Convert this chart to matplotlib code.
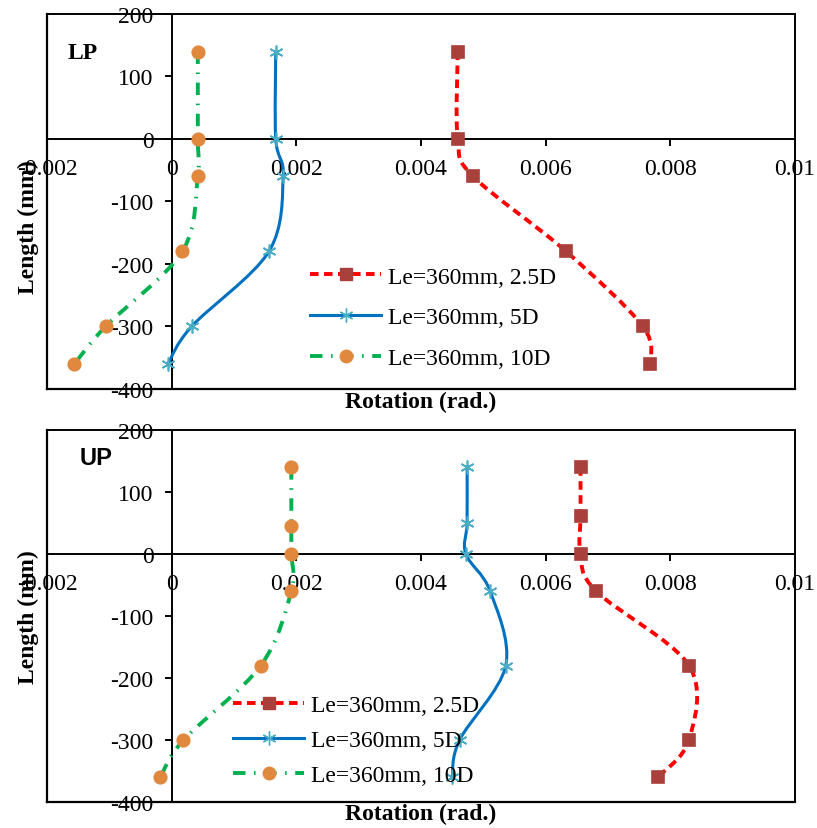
import numpy as np
import matplotlib
matplotlib.use('Agg')
import matplotlib.pyplot as plt
from matplotlib.path import Path
from matplotlib.patches import PathPatch
from matplotlib.lines import Line2D

plt.rcParams['font.family'] = ['Liberation Serif', 'DejaVu Serif']
plt.rcParams['axes.unicode_minus'] = False

# LP panel (top)
lp_len_25 = [140, 0, -60, -180, -300, -360]
lp_rot_25 = [0.00459, 0.00459, 0.00484, 0.00633, 0.00756, 0.00768]
lp_len_5 = [140, 0, -60, -180, -300, -360]
lp_rot_5 = [0.00167, 0.00167, 0.00179, 0.00156, 0.00032, -0.00006]
lp_len_10 = [140, 0, -60, -180, -300, -360]
lp_rot_10 = [0.00042, 0.00042, 0.00042, 0.00017, -0.00106, -0.00156]

# UP panel (bottom)
up_len_25 = [140, 62, 0, -60, -180, -300, -360]
up_rot_25 = [0.00656, 0.00656, 0.00656, 0.00681, 0.0083, 0.0083, 0.0078]
up_len_5 = [140, 50, 0, -60, -180, -300, -360]
up_rot_5 = [0.00474, 0.00474, 0.00472, 0.00511, 0.00536, 0.00462, 0.0045]
up_len_10 = [140, 45, 0, -60, -180, -300, -360]
up_rot_10 = [0.00192, 0.00192, 0.00192, 0.00192, 0.00143, 0.00019, -0.00018]

labels = ['Le=360mm, 2.5D', 'Le=360mm, 5D', 'Le=360mm, 10D']
x_ticks = [-0.002, 0, 0.002, 0.004, 0.006, 0.008, 0.01]
x_ticklabels = ['-0.002', '0', '0.002', '0.004', '0.006', '0.008', '0.01']
y_ticks = [200, 100, 0, -100, -200, -300, -400]

FS = 17
STAR = (6, 2, 0)

styles = [
    dict(color='#FF0000', lw=2.8, ls=(0, (2.2, 1.4)), marker='s', ms=8.5,
         mfc='#A9403C', mec='#A9403C'),
    dict(color='#0070C0', lw=2.2, ls='-', marker=STAR, ms=10,
         mfc='#4BACC6', mec='#4BACC6'),
    dict(color='#00B050', lw=2.8, ls=(0, (3.2, 2.2, 0.4, 2.2)), marker='o', ms=9,
         mfc='#E0893E', mec='#E0893E'),
]


def smooth_path(x, y):
    # Excel-like smoothed line: cubic Bezier through the points
    p = np.column_stack([x, y]).astype(float)
    n = len(p)
    verts = [p[0]]
    codes = [Path.MOVETO]
    for i in range(n - 1):
        p0 = p[i - 1] if i > 0 else p[i]
        p3 = p[i + 2] if i + 2 < n else p[i + 1]
        c1 = p[i] + (p[i + 1] - p0) / 6.0
        c2 = p[i + 1] - (p3 - p[i]) / 6.0
        verts += [c1, c2, p[i + 1]]
        codes += [Path.CURVE4] * 3
    return Path(verts, codes)


def draw_panel(ax, series, tag, tag_font, tag_pos, leg_anchor, leg_spacing, ylab_y):
    ax.set_xlim(-0.002, 0.01)
    ax.set_ylim(-400, 200)
    for (x, y), st in zip(series, styles):
        patch = PathPatch(smooth_path(x, y), fill=False, edgecolor=st['color'],
                          lw=st['lw'], ls=st['ls'], zorder=3)
        ax.add_patch(patch)
        ax.plot(x, y, ls='none', marker=st['marker'], ms=st['ms'],
                mfc=st['mfc'], mec=st['mec'], mew=1.2, zorder=4)

    # axes crossing at zero, plus outer frame
    ax.spines['left'].set_position(('data', 0))
    ax.spines['bottom'].set_position(('data', 0))
    for s in ax.spines.values():
        s.set_linewidth(1.4)
    ax.plot([0, 0], [0, 1], transform=ax.transAxes, color='black', lw=1.6, clip_on=False)
    ax.plot([0, 1], [0, 0], transform=ax.transAxes, color='black', lw=1.6, clip_on=False)

    ax.set_xticks(x_ticks)
    ax.set_xticklabels(x_ticklabels)
    ax.set_yticks(y_ticks)
    ax.tick_params(axis='both', direction='out', length=5, width=1.4, labelsize=FS)
    ax.tick_params(axis='x', pad=9)
    ax.tick_params(axis='y', pad=8)

    ax.text(0.5, -0.032, 'Rotation (rad.)', transform=ax.transAxes, ha='center',
            va='center', fontsize=FS, fontweight='bold')
    ax.text(-0.025, ylab_y, 'Length (mm)', transform=ax.transAxes, ha='center',
            va='center', rotation=90, fontsize=FS, fontweight='bold')
    ax.text(tag_pos[0], tag_pos[1], tag, transform=ax.transAxes, ha='left',
            va='center', fontsize=FS, fontweight='bold', family=tag_font)

    handles = [Line2D([], [], color=st['color'], lw=st['lw'], ls=st['ls'],
                      marker=st['marker'], ms=st['ms'], mfc=st['mfc'],
                      mec=st['mec']) for st in styles]
    ax.legend(handles, labels, loc='upper left', bbox_to_anchor=leg_anchor,
              frameon=False, fontsize=FS, handlelength=3.0, handletextpad=0.3,
              labelspacing=leg_spacing, borderpad=0, borderaxespad=0)


fig = plt.figure(figsize=(8.17, 8.29), dpi=100)
ax1 = fig.add_axes([0.0575, 0.5296, 0.9155, 0.4523])
ax2 = fig.add_axes([0.0575, 0.0314, 0.9155, 0.4487])

draw_panel(ax1, [(lp_rot_25, lp_len_25), (lp_rot_5, lp_len_5), (lp_rot_10, lp_len_10)],
           'LP', ['Liberation Serif'], (0.027, 0.898), (0.352, 0.328), 0.82, 0.435)
draw_panel(ax2, [(up_rot_25, up_len_25), (up_rot_5, up_len_5), (up_rot_10, up_len_10)],
           'UP', ['Liberation Sans'], (0.043, 0.927), (0.249, 0.288), 0.57, 0.5)

fig.savefig('out.png', dpi=100)
